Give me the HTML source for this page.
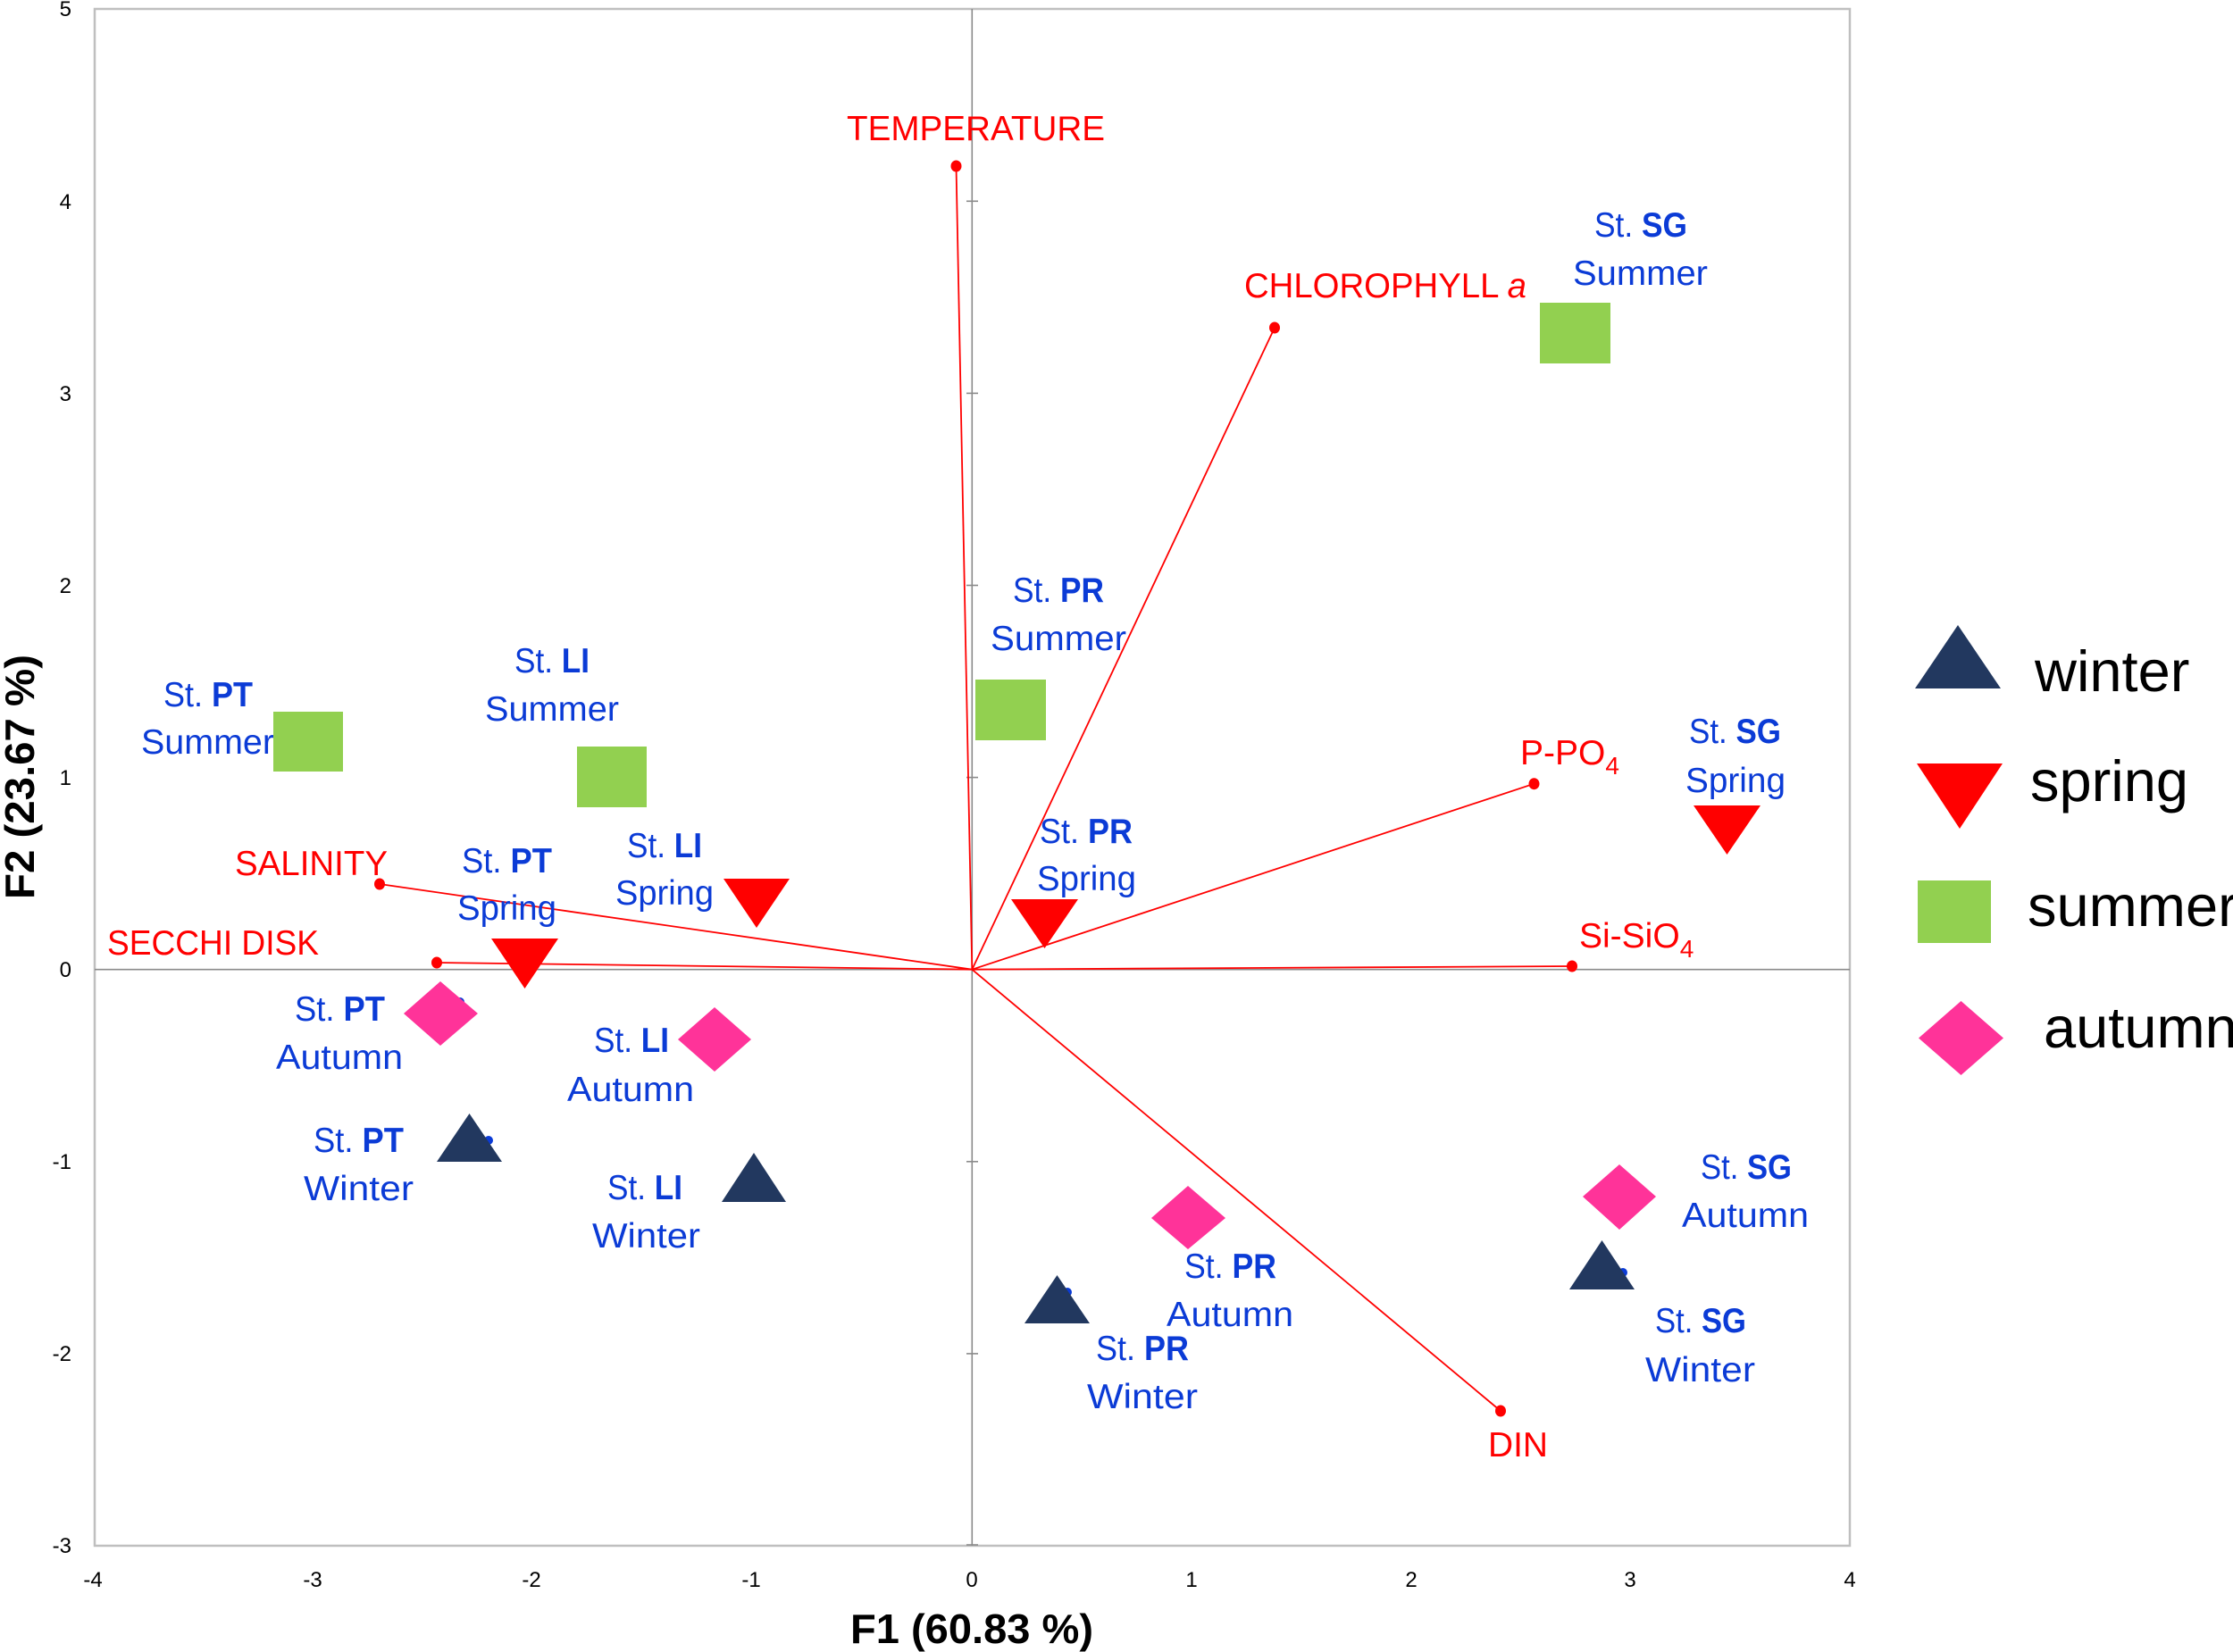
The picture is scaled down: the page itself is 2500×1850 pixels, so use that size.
<!DOCTYPE html>
<html>
<head>
<meta charset="utf-8">
<style>
  html, body { margin:0; padding:0; background:#ffffff; }
  svg { display:block; }
  .tick { font-family:"Liberation Sans", sans-serif; font-size:24px; fill:#000; }
  .lab { font-family:"Liberation Sans", sans-serif; font-size:39px; fill:#0b3bd6; }
  .red { font-family:"Liberation Sans", sans-serif; font-size:39px; fill:#ff0000; }
  .leg { font-family:"Liberation Sans", sans-serif; font-size:65px; fill:#000; }
  .axt { font-family:"Liberation Sans", sans-serif; font-size:46px; font-weight:bold; fill:#000; }
  b, .b { font-weight:bold; }
</style>
</head>
<body>
<svg width="2500" height="1850" viewBox="0 0 2500 1850" xmlns="http://www.w3.org/2000/svg">
  <rect x="0" y="0" width="2500" height="1850" fill="#fff"/>

  <!-- plot border -->
  <rect x="106" y="10" width="1965" height="1721" fill="none" stroke="#bfbfbf" stroke-width="2.5"/>

  <!-- zero axes -->
  <line x1="1088.3" y1="10" x2="1088.3" y2="1731" stroke="#8a8a8a" stroke-width="1.6"/>
  <line x1="106" y1="1085.7" x2="2071" y2="1085.7" stroke="#8a8a8a" stroke-width="1.6"/>
  <!-- cross ticks on vertical zero axis -->
  <g stroke="#8a8a8a" stroke-width="1.6">
    <line x1="1082" y1="225.3" x2="1095" y2="225.3"/>
    <line x1="1082" y1="440.4" x2="1095" y2="440.4"/>
    <line x1="1082" y1="655.5" x2="1095" y2="655.5"/>
    <line x1="1082" y1="870.6" x2="1095" y2="870.6"/>
    <line x1="1082" y1="1300.8" x2="1095" y2="1300.8"/>
    <line x1="1082" y1="1515.9" x2="1095" y2="1515.9"/>
    <line x1="1082" y1="1730" x2="1095" y2="1730"/>
  </g>

  <!-- y tick labels -->
  <g class="tick" text-anchor="end">
    <text x="80" y="18">5</text>
    <text x="80" y="234">4</text>
    <text x="80" y="449">3</text>
    <text x="80" y="664">2</text>
    <text x="80" y="879">1</text>
    <text x="80" y="1094">0</text>
    <text x="80" y="1309">-1</text>
    <text x="80" y="1524">-2</text>
    <text x="80" y="1739">-3</text>
  </g>
  <!-- x tick labels -->
  <g class="tick" text-anchor="middle">
    <text x="104" y="1777">-4</text>
    <text x="350" y="1777">-3</text>
    <text x="595" y="1777">-2</text>
    <text x="841" y="1777">-1</text>
    <text x="1088" y="1777">0</text>
    <text x="1334" y="1777">1</text>
    <text x="1580" y="1777">2</text>
    <text x="1825" y="1777">3</text>
    <text x="2071" y="1777">4</text>
  </g>

  <!-- axis titles -->
  <text class="axt" x="1088" y="1840" text-anchor="middle" textLength="272" lengthAdjust="spacingAndGlyphs">F1 (60.83 %)</text>
  <text class="axt" transform="translate(38,870) rotate(-90)" text-anchor="middle" textLength="274" lengthAdjust="spacingAndGlyphs">F2 (23.67 %)</text>

  <!-- vectors -->
  <g stroke="#ff0000" stroke-width="1.8" fill="none">
    <line x1="1088.3" y1="1085.7" x2="1070.5" y2="186"/>
    <line x1="1088.3" y1="1085.7" x2="1427" y2="367"/>
    <line x1="1088.3" y1="1085.7" x2="1717.5" y2="877.7"/>
    <line x1="1088.3" y1="1085.7" x2="1760" y2="1082"/>
    <line x1="1088.3" y1="1085.7" x2="1680" y2="1580"/>
    <line x1="1088.3" y1="1085.7" x2="425" y2="990"/>
    <line x1="1088.3" y1="1085.7" x2="489" y2="1078"/>
  </g>
  <g fill="#ff0000">
    <ellipse cx="1070.5" cy="186" rx="6" ry="6.5"/>
    <ellipse cx="1427" cy="367" rx="6" ry="6.5"/>
    <ellipse cx="1717.5" cy="877.7" rx="6" ry="6.5"/>
    <ellipse cx="1760" cy="1082" rx="6" ry="6.5"/>
    <ellipse cx="1680" cy="1580" rx="6" ry="6.5"/>
    <ellipse cx="425" cy="990" rx="6" ry="6.5"/>
    <ellipse cx="489" cy="1078" rx="6" ry="6.5"/>
  </g>

  <!-- red variable labels -->
  <text class="red" x="948" y="157" textLength="289" lengthAdjust="spacingAndGlyphs">TEMPERATURE</text>
  <text class="red" x="1393" y="333" textLength="316" lengthAdjust="spacingAndGlyphs">CHLOROPHYLL <tspan font-style="italic">a</tspan></text>
  <text class="red" x="1702" y="856">P-PO<tspan font-size="28" dy="11">4</tspan></text>
  <text class="red" x="1768" y="1061">Si-SiO<tspan font-size="28" dy="11">4</tspan></text>
  <text class="red" x="263" y="980" textLength="171" lengthAdjust="spacingAndGlyphs">SALINITY</text>
  <text class="red" x="120" y="1069" textLength="237" lengthAdjust="spacingAndGlyphs">SECCHI DISK</text>
  <text class="red" x="1666" y="1631" textLength="67" lengthAdjust="spacingAndGlyphs">DIN</text>

  <!-- station labels -->
  <g class="lab">
    <!-- Summer -->
    <text x="183" y="791" textLength="100" lengthAdjust="spacingAndGlyphs">St. <tspan class="b">PT</tspan></text>
    <text x="158" y="844" textLength="149" lengthAdjust="spacingAndGlyphs">Summer</text>
    <text x="576" y="753" textLength="84" lengthAdjust="spacingAndGlyphs">St. <tspan class="b">LI</tspan></text>
    <text x="543" y="807" textLength="150" lengthAdjust="spacingAndGlyphs">Summer</text>
    <text x="1134" y="674" textLength="102" lengthAdjust="spacingAndGlyphs">St. <tspan class="b">PR</tspan></text>
    <text x="1109" y="728" textLength="152" lengthAdjust="spacingAndGlyphs">Summer</text>
    <text x="1785" y="265" textLength="104" lengthAdjust="spacingAndGlyphs">St. <tspan class="b">SG</tspan></text>
    <text x="1761" y="319" textLength="151" lengthAdjust="spacingAndGlyphs">Summer</text>
    <!-- Spring -->
    <text x="517" y="977" textLength="101" lengthAdjust="spacingAndGlyphs">St. <tspan class="b">PT</tspan></text>
    <text x="512" y="1030" textLength="111" lengthAdjust="spacingAndGlyphs">Spring</text>
    <text x="702" y="960" textLength="84" lengthAdjust="spacingAndGlyphs">St. <tspan class="b">LI</tspan></text>
    <text x="689" y="1013" textLength="110" lengthAdjust="spacingAndGlyphs">Spring</text>
    <text x="1164" y="944" textLength="104" lengthAdjust="spacingAndGlyphs">St. <tspan class="b">PR</tspan></text>
    <text x="1161" y="997" textLength="111" lengthAdjust="spacingAndGlyphs">Spring</text>
    <text x="1891" y="832" textLength="103" lengthAdjust="spacingAndGlyphs">St. <tspan class="b">SG</tspan></text>
    <text x="1887" y="887" textLength="112" lengthAdjust="spacingAndGlyphs">Spring</text>
    <!-- Autumn -->
    <text x="330" y="1143" textLength="101" lengthAdjust="spacingAndGlyphs">St. <tspan class="b">PT</tspan></text>
    <text x="309" y="1197" textLength="142" lengthAdjust="spacingAndGlyphs">Autumn</text>
    <text x="665" y="1178" textLength="84" lengthAdjust="spacingAndGlyphs">St. <tspan class="b">LI</tspan></text>
    <text x="635" y="1233" textLength="142" lengthAdjust="spacingAndGlyphs">Autumn</text>
    <text x="1326" y="1431" textLength="103" lengthAdjust="spacingAndGlyphs">St. <tspan class="b">PR</tspan></text>
    <text x="1306" y="1485" textLength="142" lengthAdjust="spacingAndGlyphs">Autumn</text>
    <text x="1904" y="1320" textLength="102" lengthAdjust="spacingAndGlyphs">St. <tspan class="b">SG</tspan></text>
    <text x="1883" y="1374" textLength="142" lengthAdjust="spacingAndGlyphs">Autumn</text>
    <!-- Winter -->
    <text x="351" y="1290" textLength="101" lengthAdjust="spacingAndGlyphs">St. <tspan class="b">PT</tspan></text>
    <text x="340" y="1344" textLength="123" lengthAdjust="spacingAndGlyphs">Winter</text>
    <text x="680" y="1343" textLength="84" lengthAdjust="spacingAndGlyphs">St. <tspan class="b">LI</tspan></text>
    <text x="663" y="1397" textLength="121" lengthAdjust="spacingAndGlyphs">Winter</text>
    <text x="1227" y="1523" textLength="104" lengthAdjust="spacingAndGlyphs">St. <tspan class="b">PR</tspan></text>
    <text x="1217" y="1577" textLength="124" lengthAdjust="spacingAndGlyphs">Winter</text>
    <text x="1853" y="1492" textLength="102" lengthAdjust="spacingAndGlyphs">St. <tspan class="b">SG</tspan></text>
    <text x="1842" y="1547" textLength="123" lengthAdjust="spacingAndGlyphs">Winter</text>
  </g>

  <!-- small hidden data dots -->
  <g fill="#0b3bd6">
    <circle cx="515" cy="1122" r="5"/>
    <circle cx="547" cy="1277" r="5"/>
    <circle cx="1195" cy="1447" r="5"/>
    <circle cx="1817" cy="1425" r="5"/>
  </g>

  <!-- summer squares -->
  <g fill="#92d050">
    <rect x="306" y="797" width="78" height="67"/>
    <rect x="646" y="836" width="78" height="68"/>
    <rect x="1092" y="761" width="79" height="68"/>
    <rect x="1724" y="339" width="79" height="68"/>
  </g>
  <!-- spring triangles -->
  <g fill="#ff0000">
    <polygon points="550,1051 625,1051 587.5,1107"/>
    <polygon points="810,984 884,984 847,1039"/>
    <polygon points="1132,1007 1207,1007 1169.5,1062"/>
    <polygon points="1896,902 1971,902 1933.5,957"/>
  </g>
  <!-- autumn diamonds -->
  <g fill="#ff3399">
    <polygon points="493,1099 535,1135 493,1171 452,1135"/>
    <polygon points="800,1128 841,1164 800,1200 759,1164"/>
    <polygon points="1330,1328 1372,1364 1330,1399 1289,1364"/>
    <polygon points="1813,1304 1854,1340 1813,1377 1772,1340"/>
  </g>
  <!-- winter triangles -->
  <g fill="#22385f">
    <polygon points="525.5,1247 562,1301 489,1301"/>
    <polygon points="844,1291 880,1346 808,1346"/>
    <polygon points="1183.5,1428 1220,1482 1147,1482"/>
    <polygon points="1793.5,1389 1830,1444 1757,1444"/>
  </g>

  <!-- legend -->
  <polygon points="2192,700 2240,771 2144,771" fill="#22385f"/>
  <polygon points="2146,855 2242,855 2194,928" fill="#ff0000"/>
  <rect x="2147" y="986" width="82" height="70" fill="#92d050"/>
  <polygon points="2195.5,1121 2243,1162.5 2195.5,1204 2148,1162.5" fill="#ff3399"/>
  <text class="leg" x="2278" y="774">winter</text>
  <text class="leg" x="2273" y="897">spring</text>
  <text class="leg" x="2270" y="1037">summer</text>
  <text class="leg" x="2288" y="1173">autumn</text>
</svg>
</body>
</html>
